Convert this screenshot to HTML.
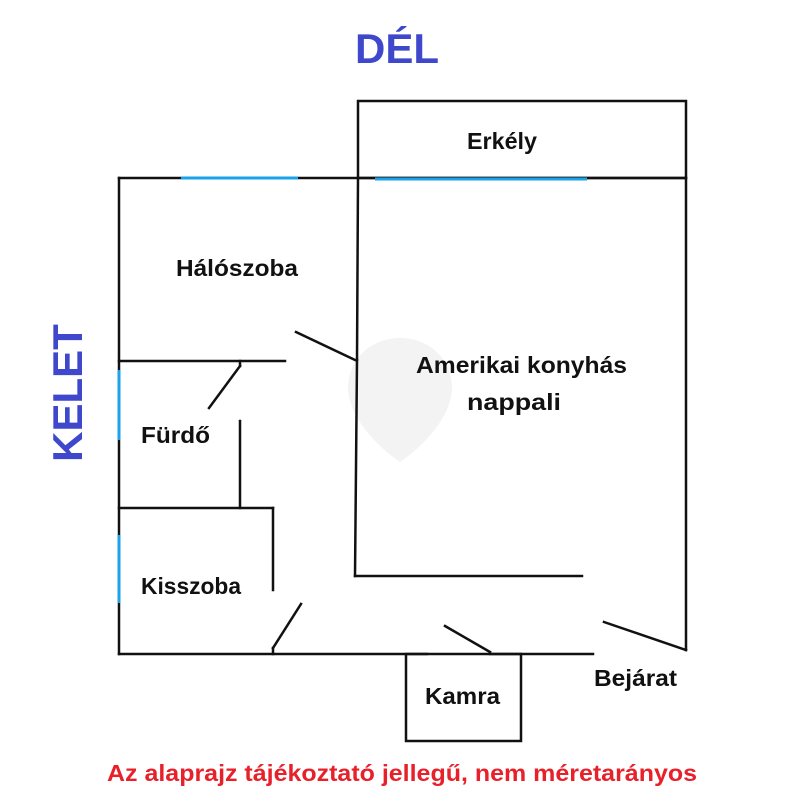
<!DOCTYPE html>
<html><head><meta charset="utf-8"><style>
html,body{margin:0;padding:0;background:#fff;}
svg{display:block;}
text{font-family:"Liberation Sans",sans-serif;font-weight:bold;}
</style></head><body>
<svg width="800" height="799" viewBox="0 0 800 799" xmlns="http://www.w3.org/2000/svg">
<path d="M400,338 C370,338 348,360 348,388 C348,415 375,445 400,462 C425,445 452,415 452,388 C452,360 430,338 400,338 Z" fill="#f3f3f3"/>
<g stroke="#111" stroke-width="2.5" fill="none" stroke-linecap="square">
<rect x="358" y="101" width="328" height="77"/>
<line x1="119" y1="178" x2="686" y2="178"/>
<line x1="119" y1="178" x2="119" y2="654"/>
<line x1="686" y1="178" x2="686" y2="650"/>
<line x1="358" y1="178" x2="357" y2="360"/>
<line x1="357" y1="360" x2="355" y2="576"/>
<line x1="355" y1="576" x2="582" y2="576"/>
<line x1="604" y1="622" x2="686" y2="650"/>
<line x1="119" y1="361" x2="285" y2="361"/>
<line x1="296" y1="332" x2="355" y2="360"/>
<line x1="240" y1="361" x2="240" y2="366"/>
<line x1="240" y1="366" x2="209" y2="408"/>
<line x1="240" y1="421" x2="240" y2="508"/>
<line x1="119" y1="508" x2="273" y2="508"/>
<line x1="273" y1="508" x2="273" y2="590"/>
<line x1="301" y1="604" x2="273" y2="648"/>
<line x1="273" y1="648" x2="273" y2="654"/>
<line x1="119" y1="654" x2="427" y2="654"/>
<rect x="406" y="654" width="115" height="87"/>
<line x1="445" y1="626" x2="490" y2="652"/>
<line x1="490" y1="654" x2="593" y2="654"/>
</g>
<g stroke="#1aa3e8" stroke-width="3">
<line x1="181" y1="178" x2="298" y2="178"/>
<line x1="375" y1="179" x2="587" y2="179"/>
<line x1="119" y1="370" x2="119" y2="440"/>
<line x1="119" y1="535" x2="119" y2="603"/>
</g>
<text x="397" y="63" font-size="42" fill="#3f48cc" text-anchor="middle">DÉL</text>
<text transform="translate(82,393) rotate(-90)" font-size="42" fill="#3f48cc" text-anchor="middle">KELET</text>
<g font-size="23" fill="#111" lengthAdjust="spacingAndGlyphs">
<text x="467" y="149" textLength="70" lengthAdjust="spacingAndGlyphs">Erkély</text>
<text x="176" y="276" textLength="122" lengthAdjust="spacingAndGlyphs">Hálószoba</text>
<text x="416" y="373" textLength="211" lengthAdjust="spacingAndGlyphs">Amerikai konyhás</text>
<text x="467" y="410" textLength="94" lengthAdjust="spacingAndGlyphs">nappali</text>
<text x="141" y="443" textLength="69" lengthAdjust="spacingAndGlyphs">Fürdő</text>
<text x="141" y="594" textLength="100" lengthAdjust="spacingAndGlyphs">Kisszoba</text>
<text x="425" y="704" textLength="75" lengthAdjust="spacingAndGlyphs">Kamra</text>
<text x="594" y="686" textLength="83" lengthAdjust="spacingAndGlyphs">Bejárat</text>
</g>
<text x="107" y="781" font-size="23" fill="#e8202a" textLength="590" lengthAdjust="spacingAndGlyphs">Az alaprajz tájékoztató jellegű, nem méretarányos</text>
</svg>
</body></html>
